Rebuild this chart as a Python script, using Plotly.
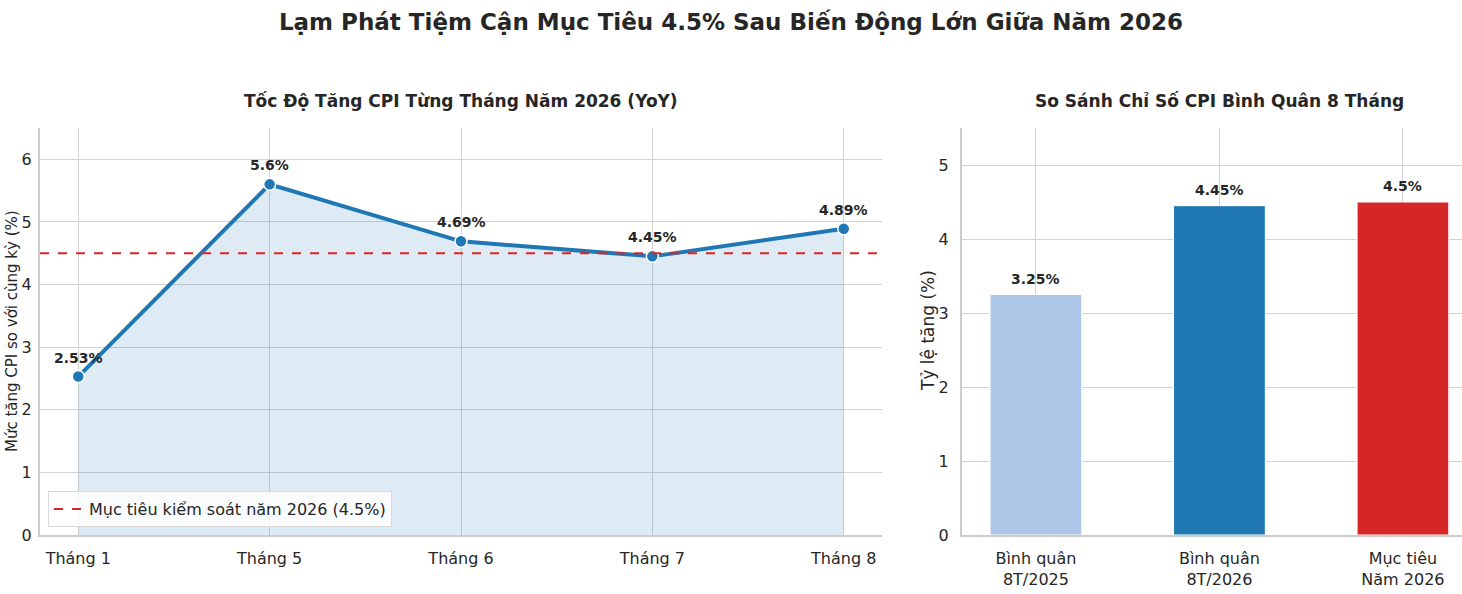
import plotly.graph_objects as go

# --- data ---
MONTHS = ["Tháng 1", "Tháng 5", "Tháng 6", "Tháng 7", "Tháng 8"]
CPI_YOY = [2.53, 5.6, 4.69, 4.45, 4.89]
TARGET = 4.5

BAR_LABELS = ["Bình quân<br>8T/2025", "Bình quân<br>8T/2026", "Mục tiêu<br>Năm 2026"]
BAR_VALUES = [3.25, 4.45, 4.5]

COLOR_LINE = "#1f77b4"
COLOR_FILL = "rgba(31, 119, 180, 0.15)"
COLOR_TARGET = "#d62728"
BAR_COLORS = ["#aec7e8", "#1f77b4", "#d62728"]
COLOR_GRID = "#d3d3d3"
COLOR_SPINE = "#cccccc"
COLOR_TEXT = "#262626"
FONT = "DejaVu Sans"

W, H = 1462, 594


def px_x(p):
    return p / W


def px_y(p):
    return 1 - p / H


fig = go.Figure()

# left panel: monthly CPI
fig.add_trace(go.Scatter(
    x=list(range(len(MONTHS))), y=CPI_YOY,
    mode="lines+markers",
    line=dict(color=COLOR_LINE, width=4),
    marker=dict(size=12, color=COLOR_LINE, line=dict(color="white", width=1.5)),
    fill="tozeroy", fillcolor=COLOR_FILL,
    showlegend=False, cliponaxis=False,
    xaxis="x", yaxis="y",
))
for i, v in enumerate(CPI_YOY):
    fig.add_annotation(
        x=i, y=v, xref="x", yref="y", text=f"<b>{v:g}%</b>", showarrow=False,
        yanchor="bottom", yshift=9,
        font=dict(family=FONT, size=14, color=COLOR_TEXT),
    )

fig.add_shape(
    type="line", xref="x domain", yref="y", x0=0, x1=1, y0=TARGET, y1=TARGET,
    line=dict(color=COLOR_TARGET, width=2, dash="dash"),
    showlegend=True, name="Mục tiêu kiểm soát năm 2026 (4.5%)",
)

# right panel: 8-month averages
fig.add_trace(go.Bar(
    x=list(range(len(BAR_LABELS))), y=BAR_VALUES,
    width=0.5,
    marker=dict(color=BAR_COLORS, line=dict(color="white", width=1)),
    showlegend=False,
    xaxis="x2", yaxis="y2",
))
for i, v in enumerate(BAR_VALUES):
    fig.add_annotation(
        x=i, y=v, xref="x2", yref="y2", text=f"<b>{v:g}%</b>", showarrow=False,
        yanchor="bottom", yshift=6,
        font=dict(family=FONT, size=14, color=COLOR_TEXT),
    )

axis_common = dict(
    showgrid=True, gridcolor=COLOR_GRID, gridwidth=1.2,
    showline=True, linecolor=COLOR_SPINE, linewidth=2,
    zeroline=False, automargin=False,
    tickfont=dict(family=FONT, size=16, color=COLOR_TEXT),
    ticks="", ticklabelstandoff=8,
)

fig.update_layout(
    width=W, height=H,
    margin=dict(l=0, r=0, t=0, b=0),
    paper_bgcolor="white", plot_bgcolor="white",
    font=dict(family=FONT, color=COLOR_TEXT),
    title=dict(
        text="<b>Lạm Phát Tiệm Cận Mục Tiêu 4.5% Sau Biến Động Lớn Giữa Năm 2026</b>",
        x=px_x(731), xanchor="center", y=px_y(22), yanchor="middle",
        font=dict(family=FONT, size=23, color=COLOR_TEXT),
    ),
    xaxis=dict(
        axis_common, domain=[px_x(40), px_x(882)], range=[-0.2, 4.2],
        tickvals=list(range(len(MONTHS))), ticktext=MONTHS, anchor="y",
    ),
    yaxis=dict(
        axis_common, domain=[px_y(535), px_y(128)], range=[0, 6.5],
        tickvals=[0, 1, 2, 3, 4, 5, 6], anchor="x", ticklabelstandoff=3,
    ),
    xaxis2=dict(
        axis_common, domain=[px_x(962), 1.0], range=[-0.403, 2.322],
        tickvals=list(range(len(BAR_LABELS))), ticktext=BAR_LABELS, anchor="y2",
    ),
    yaxis2=dict(
        axis_common, domain=[px_y(535), px_y(128)], range=[0, 5.5],
        tickvals=[0, 1, 2, 3, 4, 5], anchor="x2",
    ),
    legend=dict(
        x=px_x(48), y=px_y(527), xanchor="left", yanchor="bottom",
        bgcolor="rgba(255,255,255,0.85)", bordercolor="#d9d9d9", borderwidth=1,
        font=dict(family=FONT, size=16, color=COLOR_TEXT),
    ),
)

# subplot titles
fig.add_annotation(
    text="<b>Tốc Độ Tăng CPI Từng Tháng Năm 2026 (YoY)</b>", xref="paper", yref="paper",
    x=px_x(461), y=px_y(101), xanchor="center", yanchor="middle", showarrow=False,
    font=dict(family=FONT, size=17, color=COLOR_TEXT),
)
fig.add_annotation(
    text="<b>So Sánh Chỉ Số CPI Bình Quân 8 Tháng</b>", xref="paper", yref="paper",
    x=px_x(1219), y=px_y(101), xanchor="center", yanchor="middle", showarrow=False,
    font=dict(family=FONT, size=17, color=COLOR_TEXT),
)

# y-axis titles
fig.add_annotation(
    text="Mức tăng CPI so với cùng kỳ (%)", xref="paper", yref="paper",
    x=px_x(1), y=px_y(331), xanchor="left", yanchor="middle", textangle=-90,
    showarrow=False, font=dict(family=FONT, size=15, color=COLOR_TEXT),
)
fig.add_annotation(
    text="Tỷ lệ tăng (%)", xref="paper", yref="paper",
    x=px_x(928), y=px_y(331), xanchor="center", yanchor="middle", textangle=-90,
    showarrow=False, font=dict(family=FONT, size=17, color=COLOR_TEXT),
)

# drop the page's default body margin so the figure fills the window exactly
fig.write_html(
    "out.html",
    config={"displayModeBar": False},
    post_script="document.body.style.margin = '0';",
)
